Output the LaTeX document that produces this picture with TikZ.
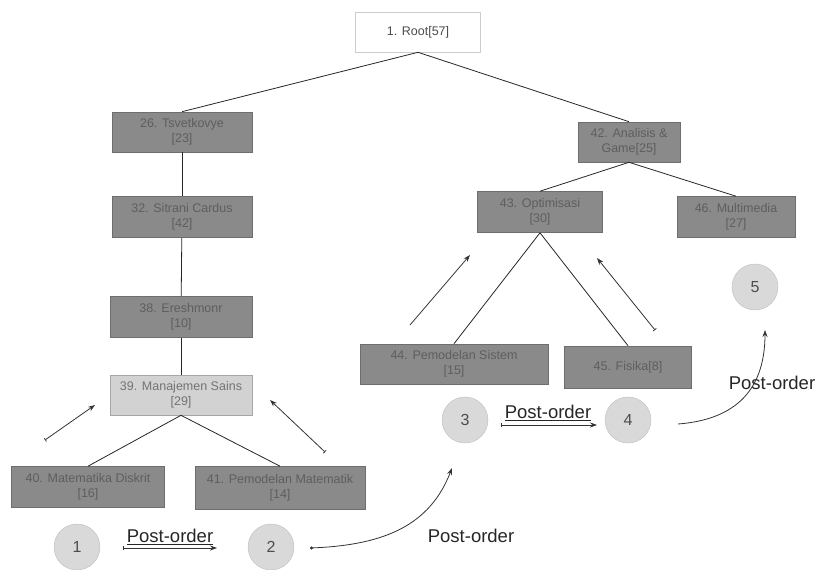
\documentclass[tikz,border=0pt]{standalone}
\usepackage{fontspec}
\setmainfont{Liberation Sans}
\usetikzlibrary{arrows.meta}
\definecolor{boxfill}{HTML}{8A8A8A}
\definecolor{boxline}{HTML}{6E6E6E}
\definecolor{boxtext}{HTML}{5E5E5E}
\definecolor{selfill}{HTML}{D2D2D2}
\definecolor{circfill}{HTML}{D9D9D9}
\definecolor{circline}{HTML}{BDBDBD}
\begin{document}
\begin{tikzpicture}[x=1pt,y=-1pt,
  topic/.style={draw=boxline,fill=boxfill,text=boxtext,align=center,
    font=\fontsize{12.5}{15}\selectfont,inner sep=1pt,line width=0.6pt},
  rootbox/.style={draw=black!20,fill=white,text=black!70,align=center,
    font=\fontsize{12.5}{15}\selectfont,line width=0.6pt},
  selbox/.style={topic,fill=selfill,draw=black!35,text=black!55},
  stepno/.style={circle,draw=circline,fill=circfill,minimum size=46pt,
    inner sep=0pt,text=black!70,font=\fontsize{16}{18}\selectfont},
  edge/.style={draw=black!85,line width=0.8pt},
  hint/.style={draw=black!80,line width=0.8pt,-{Stealth[length=7pt,width=5pt]}},
  barhint/.style={hint,{Bar[width=4pt]}-{Stealth[length=7pt,width=5pt]}},
  ordlabel/.style={font=\fontsize{18.5}{20}\selectfont,text=black!85,inner sep=0pt}]
\useasboundingbox (0,0) rectangle (822,570);

% tree nodes
\node[rootbox,minimum width=125pt,minimum height=40pt] (n1) at (418,32) {1. Root[57]};
\node[topic,minimum width=140pt,minimum height=40pt] (n26) at (182,132) {26. Tsvetkovye\\{[23]}};
\node[topic,minimum width=140pt,minimum height=41pt] (n32) at (182,217) {32. Sitrani Cardus\\{[42]}};
\node[topic,minimum width=142pt,minimum height=41pt] (n38) at (181,317) {38. Ereshmonr\\{[10]}};
\node[selbox,minimum width=142pt,minimum height=40pt] (n39) at (181,395) {39. Manajemen Sains\\{[29]}};
\node[topic,minimum width=153pt,minimum height=41pt] (n40) at (88,487) {40. Matematika Diskrit\\{[16]}};
\node[topic,minimum width=170pt,minimum height=43pt] (n41) at (280,488) {41. Pemodelan Matematik\\{[14]}};
\node[topic,minimum width=102pt,minimum height=40pt] (n42) at (629,142) {42. Analisis \&\\Game[25]};
\node[topic,minimum width=125pt,minimum height=41pt] (n43) at (540,212) {43. Optimisasi\\{[30]}};
\node[topic,minimum width=118pt,minimum height=41pt] (n46) at (736,217) {46. Multimedia\\{[27]}};
\node[topic,minimum width=188pt,minimum height=40pt] (n44) at (454,364) {44. Pemodelan Sistem\\{[15]}};
\node[topic,minimum width=127pt,minimum height=42pt] (n45) at (628,367) {45. Fisika[8]};

% tree edges
\draw[edge] (n1.south) -- (n26.north);
\draw[edge] (n1.south) -- (n42.north);
\draw[edge] (n26) -- (n32);
\draw[edge] (n32) -- (n38);
\draw[edge] (n38) -- (n39);
\draw[edge] (n39.south) -- (n40.north);
\draw[edge] (n39.south) -- (n41.north);
\draw[edge] (n42.south) -- (n43.north);
\draw[edge] (n42.south) -- (n46.north);
\draw[edge] (n43.south) -- (n44.north);
\draw[edge] (n43.south) -- (n45.north);

% visiting order
\node[stepno] (s1) at (77,547) {1};
\node[stepno] (s2) at (271,547) {2};
\node[stepno] (s3) at (465,420) {3};
\node[stepno] (s4) at (628,420) {4};
\node[stepno] (s5) at (755,287) {5};

% upward hints towards the parents
\coordinate (a1) at (45,440);  \coordinate (a1e) at (95,405);
\coordinate (a2) at (325,452); \coordinate (a2e) at (270,400);
\coordinate (a3) at (410,325); \coordinate (a3e) at (470,255);
\coordinate (a4) at (655,330); \coordinate (a4e) at (597,258);
\draw[barhint] (a1) -- (a1e);
\draw[barhint] (a2) -- (a2e);
\draw[hint] (a3) -- (a3e);
\draw[barhint] (a4) -- (a4e);

% post-order steps
\node[ordlabel] (p12) at (170,537) {\underline{Post-order}};
\coordinate (p12a) at (123,548); \coordinate (p12b) at (217,548);
\draw[barhint] (p12a) -- (p12b);

\node[ordlabel] (p23) at (471,536) {Post-order};
\coordinate (c2a) at (310,548); \coordinate (c2b) at (452,468);
\draw[hint,{Circle[length=3pt]}-{Stealth[length=7pt,width=5pt]}] (c2a) .. controls (385,545) and (430,525) .. (c2b);

\node[ordlabel] (p34) at (548,413) {\underline{Post-order}};
\coordinate (p34a) at (501,425); \coordinate (p34b) at (597,425);
\draw[barhint] (p34a) -- (p34b);

\node[ordlabel] (p45) at (772,383) {Post-order};
\coordinate (c4a) at (678,424); \coordinate (c4b) at (765,330);
\draw[hint] (c4a) .. controls (730,420) and (765,395) .. (c4b);
\end{tikzpicture}
\end{document}
